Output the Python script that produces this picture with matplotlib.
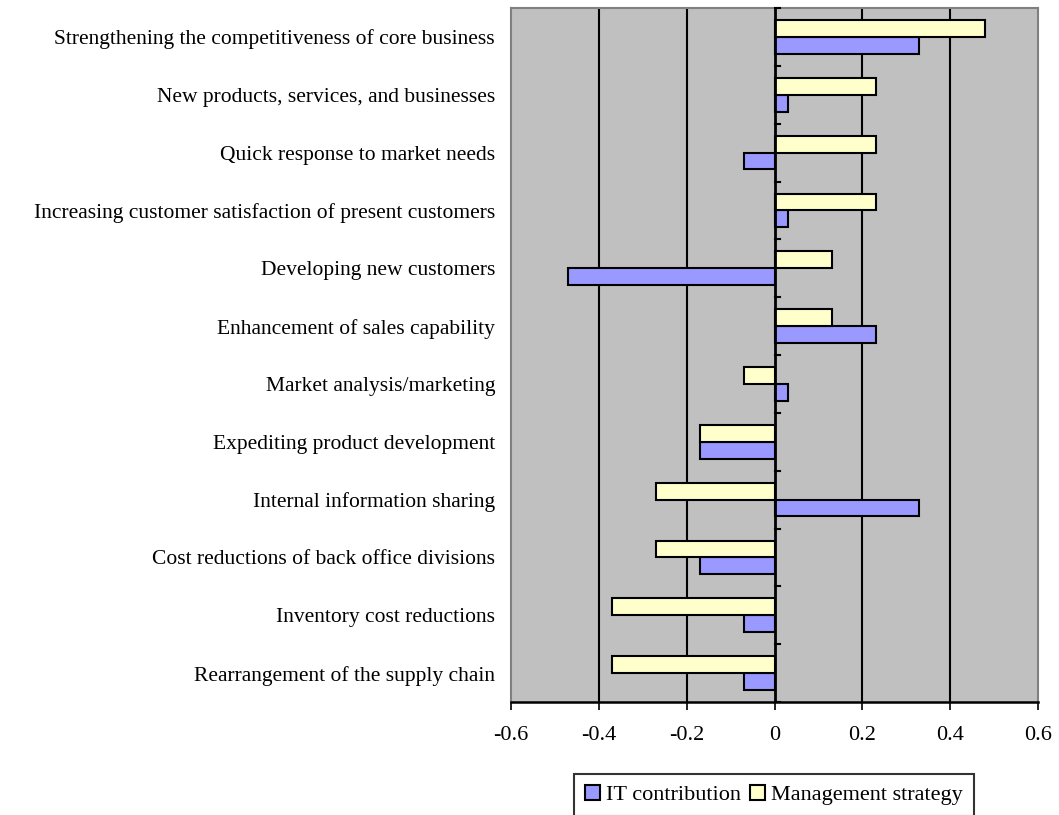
import matplotlib
matplotlib.use("Agg")
import matplotlib.pyplot as plt
import numpy as np

categories = [
    "Strengthening the competitiveness of core business",
    "New products, services, and businesses",
    "Quick response to market needs",
    "Increasing customer satisfaction of present customers",
    "Developing new customers",
    "Enhancement of sales capability",
    "Market analysis/marketing",
    "Expediting product development",
    "Internal information sharing",
    "Cost reductions of back office divisions",
    "Inventory cost reductions",
    "Rearrangement of the supply chain",
]
it_contribution = [0.33, 0.03, -0.07, 0.03, -0.47, 0.23, 0.03, -0.17, 0.33, -0.17, -0.07, -0.07]
management_strategy = [0.48, 0.23, 0.23, 0.23, 0.13, 0.13, -0.07, -0.17, -0.27, -0.27, -0.37, -0.37]
xticks = [-0.6, -0.4, -0.2, 0, 0.2, 0.4, 0.6]
xticklabels = ["-0.6", "-0.4", "-0.2", "0", "0.2", "0.4", "0.6"]

plt.rcParams['font.family'] = ['Liberation Serif', 'DejaVu Serif']

W, H = 1059, 815
fig = plt.figure(figsize=(W / 100, H / 100), dpi=100)
left, right, top, bottom = 511, 1038, 8, 702
ax = fig.add_axes([left / W, 1 - bottom / H, (right - left) / W, (bottom - top) / H])
ax.set_facecolor('#C0C0C0')

n = len(categories)
y = np.arange(n)[::-1]  # first category at top
h = 0.29
ax.barh(y - h/2, it_contribution, height=h, color='#9999FF', edgecolor='black', linewidth=1.5,
        label='IT contribution', zorder=3)
ax.barh(y + h/2, management_strategy, height=h, color='#FFFFCC', edgecolor='black', linewidth=1.5,
        label='Management strategy', zorder=3)

ax.set_xlim(-0.6, 0.6)
ax.set_ylim(-0.5, n - 0.5)

for gx in [-0.4, -0.2, 0.2, 0.4]:
    ax.axvline(gx, color='black', linewidth=1.5, zorder=1)
ax.axvline(0, color='black', linewidth=2, zorder=4)
# category boundary ticks on the zero axis
for b in np.arange(n + 1) - 0.5:
    ax.plot([0, 0.013], [b, b], color='black', linewidth=1.5, zorder=4, clip_on=False)

ax.set_xticks(xticks)
ax.set_xticklabels(xticklabels, fontsize=16)
ax.tick_params(axis='x', direction='out', length=6, width=1.2, pad=11)
ax.set_yticks(y)
ax.set_yticklabels(categories, fontsize=15.5)
ax.tick_params(axis='y', length=0, pad=11.5)

for s in ['top', 'right', 'left']:
    ax.spines[s].set_color('#808080')
    ax.spines[s].set_linewidth(1.5)
ax.spines['bottom'].set_color('black')
ax.spines['bottom'].set_linewidth(1.8)

leg = fig.legend(loc='upper center', bbox_to_anchor=(774 / W, 1 - 774 / H), ncol=2, fontsize=16,
                 frameon=True, fancybox=False, edgecolor='black', handlelength=0.65,
                 handleheight=0.65, handletextpad=0.3, columnspacing=0.4, borderpad=0.5,
                 borderaxespad=0)
leg.get_frame().set_linewidth(1.5)
for p in leg.get_patches():
    p.set_linewidth(1.5)

fig.savefig('out.png', dpi=100)
